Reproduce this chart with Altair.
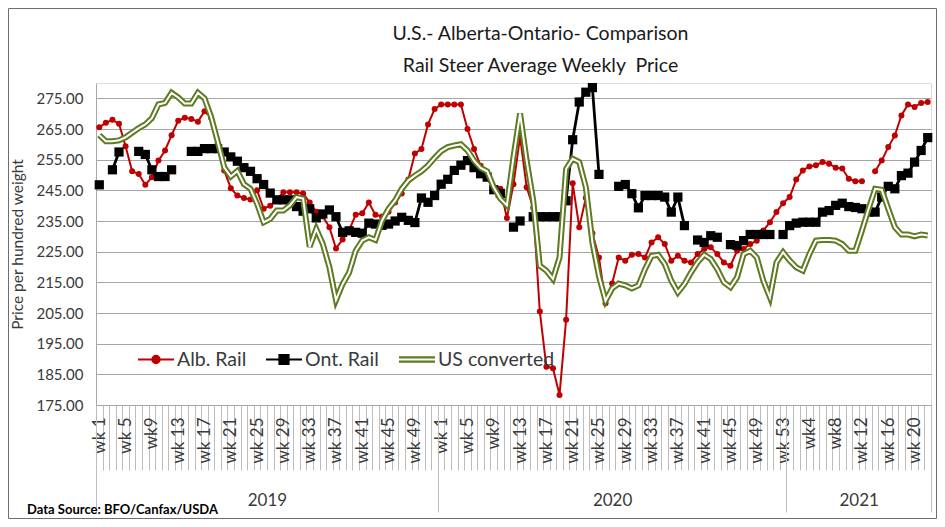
import json
import altair as alt
import pandas as pd

N = None

# ---------------- data ----------------
series_names = ["Alb. Rail", "Ont. Rail", "US converted"]
series_colors = ["#c00000", "#000000", "#5e7b22"]

alb_rail = [
    265.6, 267.0, 268.0, 266.7, 259.4, 251.2, 250.3, 246.8, 249.3, 254.7,
    258.0, 263.0, 267.7, 268.7, 268.3, 267.4, 270.8, 268.7, 260.2, 251.5,
    245.7, 243.3, 242.5, 242.0, 245.0, 239.0, 240.0, 242.0, 244.4, 244.4,
    244.4, 244.0, 241.0, 238.0, 236.5, 233.0, 226.0, 229.0, 232.0, 237.0,
    237.5, 241.0, 237.0, 236.5, 238.0, 241.0, 244.0, 248.5, 257.0, 258.5,
    266.5, 271.5, 273.0, 273.0, 273.0, 273.0, 265.0, 258.5, 253.0, 250.0,
    246.0, 245.5, 236.0, 247.0, 262.5, 246.0, 239.3, 205.5, 187.5, 187.0,
    178.3, 202.8, 247.3, 233.0, 242.5, 231.0, 223.1, 208.2, 214.6, 223.1,
    222.0, 224.0, 224.2, 223.1, 228.0, 229.7, 227.5, 222.0, 223.7, 222.0,
    221.5, 224.2, 225.9, 226.4, 224.2, 221.5, 220.4, 225.3, 225.9, 227.5,
    228.6, 231.9, 234.6, 237.9, 240.8, 242.8, 248.5, 251.5, 252.8, 253.2,
    254.2, 253.7, 252.4, 252.1, 248.8, 248.0, 248.0, N, 251.2, 254.7,
    259.1, 262.9, 269.4, 273.0, 272.2, 273.5, 273.8,
]

ont_rail = [
    246.8, N, 251.7, 257.5, N, N, 257.7, 256.7, 251.7, 249.5,
    249.5, 251.7, N, N, 257.7, 257.7, 258.6, 258.6, 258.6, 257.5,
    255.9, 254.5, 252.4, 251.2, 248.8, 246.9, 244.1, 241.9, 241.9, 241.9,
    239.7, 238.2, 239.0, 236.0, 237.3, 238.6, 236.4, 231.3, 231.8, 231.3,
    231.0, 234.3, 234.0, 233.6, 234.0, 235.0, 236.2, 235.2, 234.5, 242.5,
    241.1, 243.3, 247.0, 248.6, 251.5, 253.2, 254.7, 252.4, 250.4, 249.3,
    245.2, 244.0, N, 233.0, 235.0, N, 236.4, 236.4, 236.4, 236.4,
    236.4, 241.6, 261.5, 273.8, 277.0, 278.5, 250.2, N, N, 246.3,
    246.9, 243.9, 239.3, 243.3, 243.3, 243.3, 242.8, 237.9, 242.8, 233.5,
    N, 228.8, 228.0, 230.2, 229.7, N, 227.3, 227.0, 228.6, 230.6,
    230.6, 230.6, 230.6, N, 230.6, 233.5, 234.3, 234.6, 234.6, 234.6,
    237.9, 238.4, 240.1, 240.8, 239.7, 239.4, 239.0, 237.9, 237.9, 242.8,
    246.3, 245.5, 249.8, 250.6, 254.2, 258.0, 262.2,
]

us_converted = [
    263.0, 261.0, 261.0, 261.3, 262.3, 263.8, 265.3, 266.5, 268.5, 273.0,
    273.5, 276.8, 275.3, 273.3, 273.3, 276.8, 275.0, 269.0, 261.0, 252.5,
    249.5, 251.3, 247.0, 245.5, 240.6, 234.6, 235.7, 238.4, 238.4, 240.1,
    242.8, 242.3, 226.6, 232.4, 227.5, 219.9, 209.2, 214.4, 218.2, 225.3,
    228.6, 229.7, 228.8, 235.1, 239.0, 241.7, 245.5, 248.2, 249.8, 251.2,
    253.1, 255.6, 257.8, 259.1, 259.6, 260.0, 258.0, 254.7, 252.3, 251.2,
    246.0, 242.3, 240.1, 255.9, 270.1, 254.7, 241.7, 220.4, 218.8, 216.1,
    223.1, 252.0, 255.3, 254.2, 246.0, 228.0, 217.0, 209.0, 213.0, 214.6,
    214.0, 213.0, 214.0, 219.3, 223.6, 224.0, 221.0, 215.5, 211.7, 214.4,
    218.2, 221.5, 224.0, 222.6, 219.3, 215.0, 213.4, 216.6, 224.2, 225.3,
    223.1, 215.5, 210.1, 221.5, 224.8, 222.1, 219.9, 218.8, 224.2, 228.6,
    228.8, 228.8, 228.6, 227.5, 225.3, 225.3, 231.9, 238.9, 245.5, 245.2,
    239.0, 233.0, 230.6, 230.6, 230.0, 230.6, 230.3,
]

years = ["2019", "2020", "2021"]
weeks_per_year = [52, 53, 22]

week_label_idx = [0, 4, 8, 12, 16, 20, 24, 28, 32, 36, 40, 44, 48,
                  52, 56, 60, 64, 68, 72, 76, 80, 84, 88, 92, 96, 100, 104,
                  108, 112, 116, 120, 124]
week_labels = ["wk 1", "wk 5", "wk9", "wk 13", "wk 17", "wk 21", "wk 25", "wk 29",
               "wk 33", "wk 37", "wk 41", "wk 45", "wk 49",
               "wk 1", "wk 5", "wk9", "wk 13", "wk 17", "wk 21", "wk 25", "wk 29",
               "wk 33", "wk 37", "wk 41", "wk 45", "wk 49", "wk 53",
               "wk4", "wk8", "wk 12", "wk 16", "wk 20"]

y_ticks = [175, 185, 195, 205, 215, 225, 235, 245, 255, 265, 275]
y_domain = [175, 280]

title_lines = ["U.S.- Alberta-Ontario- Comparison", "Rail Steer Average Weekly\u00a0 Price"]
y_title = "Price per hundred weight"
source_text = "Data Source: BFO/Canfax/USDA"

# ---------------- build tables ----------------
n_weeks = sum(weeks_per_year)


def to_frame(name, values):
    rows, seg, gap = [], 0, True
    for i, v in enumerate(values):
        if v is None:
            gap = True
            continue
        if gap:
            seg += 1
            gap = False
        rows.append({"idx": i, "value": v, "series": name, "seg": f"{name}-{seg}"})
    return pd.DataFrame(rows)


df_alb = to_frame(series_names[0], alb_rail)
df_ont = to_frame(series_names[1], ont_rail)
df_us = to_frame(series_names[2], us_converted)

boundaries = [-0.5]
for w in weeks_per_year:
    boundaries.append(boundaries[-1] + w)
year_centers = [(boundaries[k] + boundaries[k + 1]) / 2 for k in range(len(years))]

FONT = "Lato"
TXT = "#3a3a3a"
GRID = "#a6a6a6"
TICK = "#bdbdbd"

W, H = 835, 322
PAD = {"left": 88, "top": 75, "right": 6, "bottom": 114}

xscale = alt.Scale(domain=[-0.5, n_weeks - 0.5], nice=False, zero=False)
yscale = alt.Scale(domain=y_domain, nice=False, zero=False)
cscale = alt.Scale(domain=series_names, range=series_colors)

# ---------------- axes ----------------
axis_cat_ticks = alt.Axis(orient="bottom", values=[i - 0.5 for i in range(n_weeks + 1)],
                          labels=False, ticks=True, tickSize=65, tickColor=TICK, tickWidth=1,
                          domain=True, domainColor=GRID, domainWidth=1, grid=False, title=None)

week_expr = f"{json.dumps(week_labels)}[indexof({json.dumps(week_label_idx)}, datum.value)]"
axis_week_labels = alt.Axis(orient="bottom", values=week_label_idx, labelExpr=week_expr,
                            labelAngle=270, labelFont=FONT, labelFontSize=17, labelColor=TXT,
                            labelPadding=12, labelOverlap=False, labelFlush=False,
                            ticks=False, domain=False, grid=False, title=None)

axis_year_sep = alt.Axis(orient="bottom", values=boundaries, labels=False, ticks=True,
                         tickSize=107, tickColor=TICK, tickWidth=1, domain=False, grid=False,
                         title=None)

year_expr = f"{json.dumps(years)}[indexof({json.dumps(year_centers)}, datum.value)]"
axis_year_labels = alt.Axis(orient="bottom", values=year_centers, labelExpr=year_expr,
                            labelFont=FONT, labelFontSize=17, labelColor=TXT,
                            labelPadding=95, labelBaseline="middle", labelFlush=False,
                            labelOverlap=False, ticks=False, domain=False, grid=False, title=None)

y_axis = alt.Axis(values=y_ticks, format=".2f", labelFont=FONT, labelFontSize=15,
                  labelColor=TXT, labelPadding=13, ticks=False, grid=True, gridColor=GRID,
                  gridWidth=1.2, domain=True, domainColor=GRID, title=y_title,
                  titleFont=FONT, titleFontSize=15.5, titleFontWeight="normal",
                  titleColor=TXT, titlePadding=10)

# ---------------- legend ----------------
legend_paths = [
    "M-1,0H1M-0.2,0A0.2,0.2,0,1,1,0.2,0A0.2,0.2,0,1,1,-0.2,0Z",
    "M-1,0H1M-0.25,-0.25H0.25V0.25H-0.25Z",
    "M-1,-0.12H1M-1,0.12H1",
]
pick = f"indexof({json.dumps(series_names)}, datum.value)"

legend = alt.Legend(
    title=None, orient="none", legendX=40.5, legendY=257, direction="horizontal",
    labelFont=FONT, labelFontSize=19.5, labelColor=TXT, labelLimit=400,
    symbolSize=1296, symbolStrokeWidth=2.2, labelOffset=1.5, columnPadding=15, padding=0,
    symbolOpacity=1,
    symbolType={"expr": f"{json.dumps(legend_paths)}[{pick}]"},
)


def enc(chart, xaxis, color=True):
    e = dict(
        x=alt.X("idx:Q", scale=xscale, axis=xaxis, title=None),
        y=alt.Y("value:Q", scale=yscale, axis=y_axis, title=None),
        detail="seg:N",
    )
    if color:
        e["color"] = alt.Color("series:N", scale=cscale, legend=legend)
    return chart.encode(**e)


alb_pts = enc(alt.Chart(df_alb).mark_circle(size=36, opacity=1), axis_cat_ticks)
alb_line = enc(alt.Chart(df_alb).mark_line(strokeWidth=2), None)
ont_pts = enc(alt.Chart(df_ont).mark_square(size=85, opacity=1), axis_week_labels)
ont_line = enc(alt.Chart(df_ont).mark_line(strokeWidth=2.8), None)
us_outer = enc(alt.Chart(df_us).mark_line(strokeWidth=6), axis_year_sep)
us_inner = enc(alt.Chart(df_us).mark_line(strokeWidth=2, color="#ffffff"), axis_year_labels,
               color=False)

src = alt.Chart(pd.DataFrame({"text": [source_text]})).mark_text(
    align="left", baseline="middle", font=FONT, fontSize=13, fontWeight="bold", color="#000000"
).encode(text="text:N", x=alt.value(-69), y=alt.value(427))

frame = alt.Chart(pd.DataFrame({"k": [0]})).mark_rect(
    filled=False, stroke="#6e6e6e", strokeWidth=1
).encode(
    x=alt.value(-PAD["left"] + 0.5), x2=alt.value(W + PAD["right"] - 0.5),
    y=alt.value(-PAD["top"] + 0.5), y2=alt.value(H + PAD["bottom"] - 0.5),
)

chart = alt.layer(frame, alb_pts, alb_line, ont_pts, ont_line, us_outer, us_inner, src).resolve_axis(
    x="independent"
).properties(
    width=W, height=H,
    title=alt.TitleParams(text=title_lines, font=FONT, fontSize=19.5, fontWeight="normal",
                          color="#1a1a1a", anchor="middle", frame="group", dx=27, dy=76,
                          lineHeight=32, offset=8),
    autosize=alt.AutoSizeParams(type="none"),
    padding=PAD,
).configure_view(strokeWidth=0).configure(background="#ffffff")

chart.save("out.html", embed_options={"renderer": "svg", "actions": False})
